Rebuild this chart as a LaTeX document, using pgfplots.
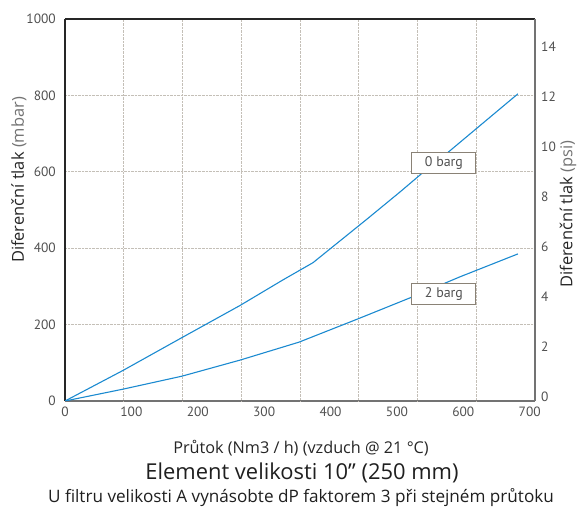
\documentclass[border=0pt]{standalone}
\usepackage{pgfplots}
\pgfplotsset{compat=1.18}
\usepackage{fontspec}
\setmainfont{Open Sans}
\newfontfamily\ticksfont{PT Sans}
\definecolor{lineblue}{HTML}{1B8AD0}
\definecolor{tickgray}{HTML}{505050}
\definecolor{gridgray}{HTML}{C4BFB7}
\definecolor{boxgray}{HTML}{8A8276}

\begin{document}
\begin{tikzpicture}
\useasboundingbox (0,0) rectangle (580bp,513bp);

% Diferenční tlak v mbar
\begin{axis}[
  at={(65bp,112bp)}, anchor=south west,
  scale only axis, width=470bp, height=382bp,
  xmin=0, xmax=708, ymin=0, ymax=1000,
  axis x line*=bottom, axis y line*=left,
  x axis line style={color=black!55, line width=1.6bp},
  y axis line style={color=black!85, line width=1.2bp},
  xtick={0,100,...,700}, ytick={0,200,...,1000},
  major tick length=0pt,
  extra x ticks={88.5,177,265.5,354,442.5,531,619.5},
  extra x tick labels={},
  extra x tick style={grid=major},
  ymajorgrids=true,
  grid style={gridgray, densely dotted, line width=0.6bp},
  /pgf/number format/assume math mode=true,
  /pgf/number format/1000 sep={},
  tick label style={font=\ticksfont\fontsize{13.5}{15}\selectfont, text=tickgray},
  xticklabel style={anchor=north, inner sep=0pt, yshift=-6bp},
  yticklabel style={anchor=east, inner sep=0pt, xshift=-9bp},
]
\addplot[lineblue, line width=1.1bp] table {
x y
0 0
87.4 80
176.2 166
263.6 250
328.3 317
373.5 362
454.8 476
504.5 547
539.1 598
579.8 655
682.2 804
};
\addplot[lineblue, line width=1.1bp] table {
x y
0 0
87.4 31
176.2 65
263.6 107
352.4 154
441.3 215
522.6 272
594.9 325
682.2 385
};
\node[draw=boxgray, fill=white, line width=0.9bp, minimum width=64bp, minimum height=21bp, inner sep=0pt,
  font=\ticksfont\fontsize{14}{16}\selectfont, text=tickgray] at (axis cs:570.8,624) {0 barg};
\node[draw=boxgray, fill=white, line width=0.9bp, minimum width=64bp, minimum height=21bp, inner sep=0pt,
  font=\ticksfont\fontsize{14}{16}\selectfont, text=tickgray] at (axis cs:570.8,281) {2 barg};
\end{axis}

% Diferenční tlak v psi
\begin{axis}[
  at={(65bp,112bp)}, anchor=south west,
  scale only axis, width=470bp, height=382bp,
  xmin=0, xmax=708, ymin=-0.16, ymax=15.12,
  axis x line*=top, axis y line*=right,
  x axis line style={color=black!85, line width=1.2bp},
  y axis line style={color=black!55, line width=1.2bp},
  xtick=\empty, ytick={0,2,...,14},
  major tick length=0pt,
  /pgf/number format/assume math mode=true,
  tick label style={font=\ticksfont\fontsize{13.5}{15}\selectfont, text=tickgray},
  yticklabel style={anchor=west, inner sep=0pt, xshift=6bp},
]
\end{axis}

\node[font=\fontsize{16.3}{18}\selectfont, text=black!85] at (301bp,65bp) {Průtok (Nm3 / h) (vzduch @ 21 °C)};
\node[font=\fontsize{22}{25}\selectfont, text=black!88] at (302bp,40bp) {Element velikosti 10” (250 mm)};
\node[font=\fontsize{17.2}{19}\selectfont, text=black!88] at (301bp,15bp) {U filtru velikosti A vynásobte dP faktorem 3 při stejném průtoku};
\node[rotate=90, font=\fontsize{16.5}{18}\selectfont, text=black!85] at (19bp,333bp) {Diferenční tlak {\color{black!55}(mbar)}};
\node[rotate=90, font=\fontsize{16.5}{18}\selectfont, text=black!85] at (568bp,299bp) {Diferenční tlak {\color{black!55}(psi)}};
\end{tikzpicture}
\end{document}
